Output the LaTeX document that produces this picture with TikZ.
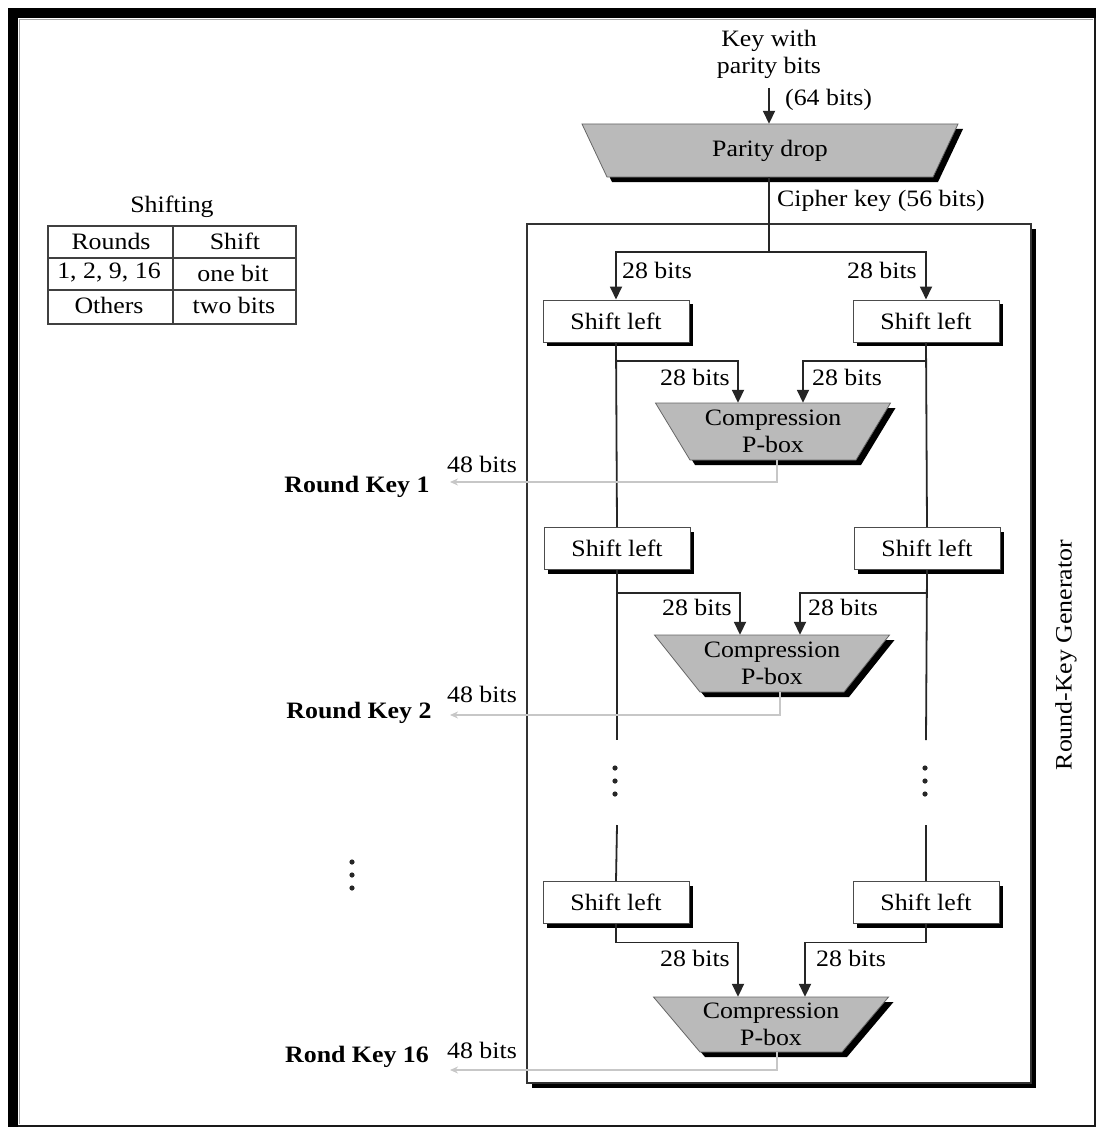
\documentclass[tikz,border=0pt]{standalone}
\usepackage{fontspec}
\setmainfont{Liberation Serif}[FakeStretch=1.1]
\usetikzlibrary{shadows,arrows.meta,calc}

% Inverted trapezoid box with a black drop shadow and a named text node.
% #1 name, #2 centre, #3 half top width, #4 half bottom width, #5 half height, #6 text
\newcommand{\trapnode}[6]{%
  \begin{scope}[shift={#2}]
    \fill[black] (-#3+5,-#5+5) -- (#3+5,-#5+5) -- (#4+5,#5+5) -- (-#4+5,#5+5) -- cycle;
    \filldraw[fill=black!27, draw=black!60, line width=0.8pt]
      (-#3,-#5) -- (#3,-#5) -- (#4,#5) -- (-#4,#5) -- cycle;
  \end{scope}
  \node[align=center, minimum width={2*#3pt}, minimum height={2*#5pt}] (#1) at #2 {#6};
}

\begin{document}
\begin{tikzpicture}[x=1pt,y=-1pt,
  every node/.style={font=\fontsize{23.5}{27}\selectfont, inner sep=0pt},
  line/.style={draw=black!85, line width=1.8pt},
  arr/.style={line, -{Triangle[length=13pt,width=12pt]}},
  keyline/.style={draw=black!22, line width=1.6pt, -{Stealth[length=8pt,width=7pt]}},
  blackshadow/.style={drop shadow={shadow xshift=#1, shadow yshift=-#1, fill=black, opacity=1, draw=none}},
  shiftbox/.style={draw=black!70, line width=1pt, fill=white,
    minimum width=146pt, minimum height=42pt, blackshadow=4pt},
  genbox/.style={draw=black!80, line width=1.2pt, fill=white,
    minimum width=504pt, minimum height=859pt, blackshadow=5pt},
  tbl/.style={draw=black!75, line width=1.6pt},
  keylbl/.style={font=\fontsize{23.5}{27}\selectfont\bfseries},
]
\useasboundingbox (0,0) rectangle (1098,1129);

% outer frame
\fill[black] (8,8) rectangle (18,1127);
\fill[black] (8,8) rectangle (1096,18);
\draw[black!90, line width=1.8pt] (1095,18) -- (1095,1126) -- (18,1126);
\draw[black!35, line width=0.8pt] (19.5,1124) -- (19.5,19.5) -- (1093,19.5);

% round-key generator frame
\node[genbox] (gen) at (779,653.5) {};
\node[rotate=90] (genlbl) at (1066,655) {Round-Key Generator};

% shift table
\node (shtitle) at (172,207) {Shifting};
\draw[tbl] (48,226) rectangle (296,324);
\draw[tbl] (173,226) -- (173,324);
\draw[tbl] (48,258) -- (296,258);
\draw[tbl] (48,290) -- (296,290);
\node (t11) at (111,241) {Rounds};
\node (t12) at (235,241) {Shift};
\node (t21) at (109,273) {1, 2, 9, 16};
\node (t22) at (233,273) {one bit};
\node (t31) at (109,305) {Others};
\node (t32) at (234,305) {two bits};

% parity drop
\node[align=center] (keytxt) at (769,54) {Key with\\parity bits};
\node[anchor=west] (bits64) at (785,100) {(64 bits)};
\trapnode{pd}{(770,150.5)}{188}{163}{26.5}{Parity drop}
\node[anchor=west] (ck) at (777,201) {Cipher key (56 bits)};
\coordinate (kin) at (769,88);
\draw[arr] (kin) -- (pd.north -| kin);
\coordinate (split) at (769,252);
\draw[line] (pd.south -| split) -- (split);

% shift-left boxes
\node[shiftbox] (sl1) at (616,321) {Shift left};
\node[shiftbox] (sr1) at (926,321) {Shift left};
\node[shiftbox] (sl2) at (617,548.5) {Shift left};
\node[shiftbox] (sr2) at (927,548.5) {Shift left};
\node[shiftbox] (sl3) at (616,902.5) {Shift left};
\node[shiftbox] (sr3) at (926,902.5) {Shift left};

% compression P-boxes
\trapnode{cp1}{(773,431.5)}{117.5}{83}{28.5}{Compression\\P-box}
\trapnode{cp2}{(772,663.5)}{117.5}{72}{28.5}{Compression\\P-box}
\trapnode{cp3}{(771,1024.5)}{117.5}{71}{27.5}{Compression\\P-box}

% key halves into the first shifts
\draw[arr] (split) -| (sl1.north);
\draw[arr] (split) -| (sr1.north);
\node[anchor=west] (h1) at (622,270) {28 bits};
\node[anchor=east] (h2) at (917,270) {28 bits};

% round 1
\draw[line] (sl1.south) -- (sl2.north);
\draw[line] (sr1.south) -- (sr2.north);
\coordinate (b1) at (0,361);
\draw[arr] (sl1.south |- b1) -| ($(cp1.north)+(-35,0)$);
\draw[arr] (sr1.south |- b1) -| ($(cp1.north)+(30,0)$);
\node[anchor=east] (l1a) at (730,377) {28 bits};
\node[anchor=west] (l1b) at (812,377) {28 bits};

% round 2
\coordinate (b2) at (0,593);
\draw[arr] (sl2.south |- b2) -| ($(cp2.north)+(-32,0)$);
\draw[arr] (sr2.south |- b2) -| ($(cp2.north)+(28,0)$);
\node[anchor=east] (l2a) at (732,607) {28 bits};
\node[anchor=west] (l2b) at (808,607) {28 bits};
\coordinate (gl1) at (617,740);
\coordinate (gr1) at (926,740);
\draw[line] (sl2.south) -- (gl1);
\draw[line] (sr2.south) -- (gr1);

% elided rounds
\foreach \yy in {768,781,794} {
  \fill[black!85] (615,\yy) circle (2.6);
  \fill[black!85] (925,\yy) circle (2.6);
}
\foreach \yy in {862,875,888} {
  \fill[black!85] (352,\yy) circle (2.6);
}
\coordinate (gl2) at (617,825);
\coordinate (gr2) at (926,825);
\draw[line] (gl2) -- (sl3.north);
\draw[line] (gr2) -- (sr3.north);

% round 16
\draw[arr] (sl3.south) -- ++(0,18.5) -| ($(cp3.north)+(-33,0)$);
\draw[arr] (sr3.south) -- ++(0,18.5) -| ($(cp3.north)+(34,0)$);
\node[anchor=east] (l3a) at (730,958) {28 bits};
\node[anchor=west] (l3b) at (816,958) {28 bits};

% round keys
\coordinate (o1) at (450,482);
\coordinate (o2) at (450,715);
\coordinate (o3) at (450,1070);
\draw[keyline] ([xshift=4pt]cp1.south) |- (o1);
\draw[keyline] ([xshift=8pt]cp2.south) |- (o2);
\draw[keyline] ([xshift=6pt]cp3.south) |- (o3);
\node (w1) at (482,464) {48 bits};
\node (w2) at (482,694) {48 bits};
\node (w3) at (482,1050) {48 bits};
\node[keylbl] (rk1) at (357,487) {Round Key 1};
\node[keylbl] (rk2) at (359,713) {Round Key 2};
\node[keylbl] (rk16) at (357,1057) {Rond Key 16};
\end{tikzpicture}
\end{document}
